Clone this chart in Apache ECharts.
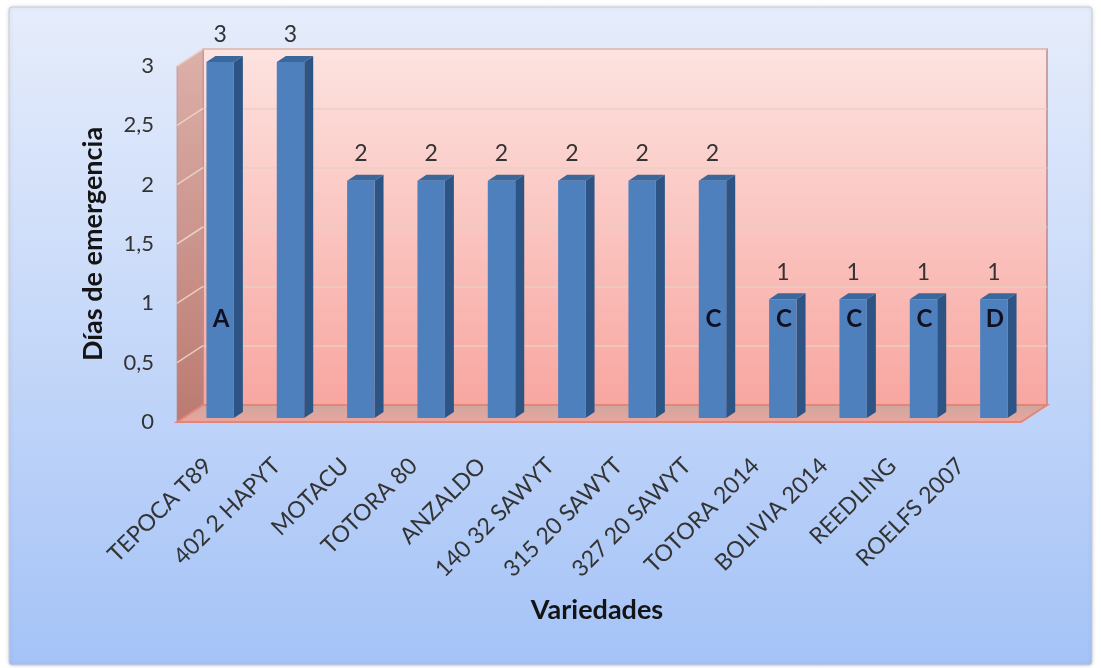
<!DOCTYPE html>
<html>
<head>
<meta charset="utf-8">
<title>Días de emergencia por variedad</title>
<script src="https://cdn.jsdelivr.net/npm/echarts@6/dist/echarts.min.js"></script>
<style>
  html, body { margin: 0; padding: 0; background: #ffffff; }
  #chart { width: 1101px; height: 668px; }
</style>
</head>
<body>
<div id="chart"></div>
<script>
// Varieties and days to emergence
const categories = ['TEPOCA T89', '402 2 HAPYT', 'MOTACU', 'TOTORA 80', 'ANZALDO', '140 32 SAWYT',
  '315 20 SAWYT', '327 20 SAWYT', 'TOTORA 2014', 'BOLIVIA 2014', 'REEDLING', 'ROELFS 2007'];
const values = [3, 3, 2, 2, 2, 2, 2, 2, 1, 1, 1, 1];
// Significance group letters written on the bars
const letters = ['A', '', '', '', '', '', '', 'C', 'C', 'C', 'C', 'D'];
const letterLevel = 0.83;
// Value axis ticks
const yTicks = [0, 0.5, 1, 1.5, 2, 2.5, 3];
const yTickLabels = ['0', '0,5', '1', '1,5', '2', '2,5', '3'];

const FONT = 'Lato, "Open Sans", sans-serif';
const WALL_DX = 26, WALL_DY = 17;   // depth of the side wall / floor
const BAR_DX = 9, BAR_DY = 6;       // depth of each bar
const BAR_RATIO = 0.39;

const chart = echarts.init(document.getElementById('chart'));

function tickLabel(v) {
  const i = yTicks.indexOf(v);
  return i >= 0 ? yTickLabels[i] : '';
}

// Side wall, floor and side gridlines around the back wall
function renderWalls(params, api) {
  if (params.dataIndex !== 0) return null;
  const cs = params.coordSys;
  const x = cs.x, y = cs.y, w = cs.width, h = cs.height;
  const children = [];
  children.push({
    type: 'polygon',
    shape: { points: [[x, y], [x - WALL_DX, y + WALL_DY], [x - WALL_DX, y + h + WALL_DY], [x, y + h]] },
    style: {
      fill: new echarts.graphic.LinearGradient(0, 0, 0, 1, [
        { offset: 0, color: '#dcb0a9' }, { offset: 1, color: '#bb7a71' }
      ]),
      stroke: 'rgba(190,140,140,0.7)', lineWidth: 1
    }
  });
  yTicks.forEach(function (v) {
    if (v === 0) return;
    const yy = api.coord([0, v])[1];
    children.push({
      type: 'line',
      shape: { x1: x, y1: yy, x2: x - WALL_DX, y2: yy + WALL_DY },
      style: { stroke: 'rgba(240,215,205,0.85)', lineWidth: 1.5 }
    });
  });
  children.push({
    type: 'polygon',
    shape: { points: [[x, y + h], [x + w, y + h], [x + w - WALL_DX, y + h + WALL_DY], [x - WALL_DX, y + h + WALL_DY]] },
    style: {
      fill: new echarts.graphic.LinearGradient(0, 0, 0, 1, [
        { offset: 0, color: '#cda79f' }, { offset: 1, color: '#eca59d' }
      ]),
      stroke: '#e58478', lineWidth: 2
    }
  });
  return { type: 'group', children: children };
}

// Pseudo-3D column: front face, right side, top, value label and letter
function renderBar(params, api) {
  const i = api.value(0), v = api.value(1);
  const top = api.coord([i, v]);
  const base = api.coord([i, 0]);
  const band = api.size([1, 0])[0];
  const bw = band * BAR_RATIO;
  const x0 = top[0] - bw / 2, x1 = top[0] + bw / 2;
  const children = [
    {
      type: 'polygon',
      shape: { points: [[x1, top[1]], [x1 + BAR_DX, top[1] - BAR_DY], [x1 + BAR_DX, base[1] - BAR_DY], [x1, base[1]]] },
      style: { fill: '#2c5586' }
    },
    {
      type: 'polygon',
      shape: { points: [[x0, top[1]], [x0 + BAR_DX, top[1] - BAR_DY], [x1 + BAR_DX, top[1] - BAR_DY], [x1, top[1]]] },
      style: { fill: '#3a679c' }
    },
    {
      type: 'rect',
      shape: { x: x0, y: top[1], width: bw, height: base[1] - top[1] },
      style: { fill: '#4f80be' }
    },
    {
      type: 'text',
      x: top[0], y: top[1] - 27,
      style: { text: String(v), fill: '#333333', font: '23px ' + FONT, align: 'center', verticalAlign: 'middle' }
    }
  ];
  const letter = letters[i];
  if (letter) {
    const p = api.coord([i, letterLevel]);
    children.push({
      type: 'text',
      x: p[0] + 1, y: p[1],
      style: { text: letter, fill: '#101020', font: 'bold 24px ' + FONT, align: 'center', verticalAlign: 'middle' }
    });
  }
  return { type: 'group', children: children };
}

const option = {
  animation: false,
  graphic: [{
    type: 'rect', z: -10, silent: true,
    shape: { x: 9, y: 7, width: 1083, height: 658, r: 3 },
    style: {
      fill: new echarts.graphic.LinearGradient(0, 0, 0, 1, [
        { offset: 0, color: '#e6edfb' }, { offset: 1, color: '#a5c3f7' }
      ]),
      stroke: '#c9ccd4', lineWidth: 1,
      shadowBlur: 4, shadowColor: 'rgba(0,0,0,0.15)'
    }
  }],
  grid: [
    // back wall
    {
      left: 203, right: 54, top: 49, bottom: 263, show: true,
      backgroundColor: new echarts.graphic.LinearGradient(0, 0, 0, 1, [
        { offset: 0, color: '#fde3e0' }, { offset: 1, color: '#f8a6a0' }
      ]),
      borderColor: 'rgba(170,125,135,0.85)', borderWidth: 1.5
    },
    // column plane
    { left: 185, right: 72, top: 62, bottom: 250 },
    // front edge: tick labels and axis titles
    { left: 174, right: 106, top: 66, bottom: 246 }
  ],
  xAxis: [
    { gridIndex: 0, type: 'category', data: categories, show: false },
    { gridIndex: 1, type: 'category', data: categories, show: false },
    {
      gridIndex: 2, type: 'category', data: categories,
      axisLine: { show: false }, axisTick: { show: false },
      axisLabel: { rotate: 45, margin: 40, interval: 0, color: '#333333', fontFamily: FONT, fontSize: 23 },
      name: 'Variedades', nameLocation: 'middle', nameGap: 175,
      nameTextStyle: { fontFamily: FONT, fontSize: 27, fontWeight: 'bold', color: '#141414', padding: [0, 0, 0, 25] }
    }
  ],
  yAxis: [
    {
      gridIndex: 0, type: 'value', min: 0, max: 3, interval: 0.5,
      axisLine: { show: false }, axisTick: { show: false }, axisLabel: { show: false },
      splitLine: { show: true, lineStyle: { color: 'rgba(232,205,195,0.95)', width: 1.5 } }
    },
    {
      gridIndex: 1, type: 'value', min: 0, max: 3, interval: 0.5, show: false
    },
    {
      gridIndex: 2, type: 'value', min: 0, max: 3, interval: 0.5,
      axisLine: { show: false }, axisTick: { show: false }, splitLine: { show: false },
      axisLabel: { margin: 20, color: '#333333', fontFamily: FONT, fontSize: 22, formatter: tickLabel },
      name: 'Días de emergencia', nameLocation: 'middle', nameRotate: 90, nameGap: 67,
      nameTextStyle: { fontFamily: FONT, fontSize: 27, fontWeight: 'bold', color: '#141414' }
    }
  ],
  series: [
    {
      type: 'custom', name: 'walls', xAxisIndex: 0, yAxisIndex: 0, z: 1, silent: true, clip: false,
      renderItem: renderWalls, data: [[0, 0]]
    },
    {
      type: 'custom', name: 'Días de emergencia', xAxisIndex: 1, yAxisIndex: 1, z: 3, clip: false,
      renderItem: renderBar,
      data: values.map(function (v, i) { return [i, v]; })
    }
  ]
};

chart.setOption(option);
</script>
</body>
</html>
